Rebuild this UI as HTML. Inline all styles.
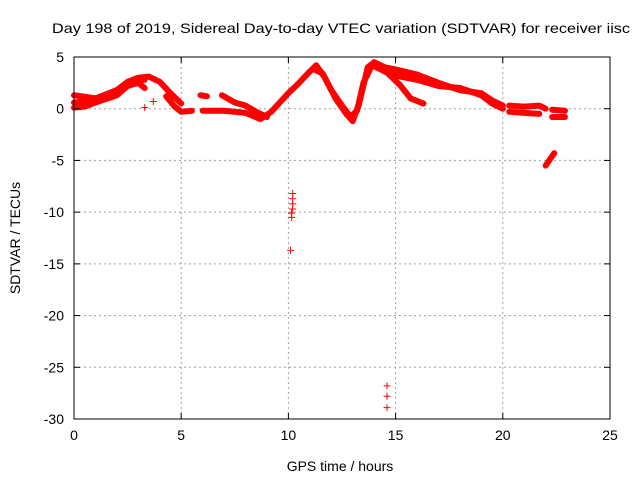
<!DOCTYPE html>
<html><head><meta charset="utf-8"><style>
body{margin:0;background:#fff}
svg{display:block;font-family:"Liberation Sans",sans-serif}
</style></head><body>
<svg id="chart" width="640" height="480" viewBox="0 0 640 480" xmlns="http://www.w3.org/2000/svg">
<text x="52" y="33" font-size="14" textLength="578" lengthAdjust="spacingAndGlyphs" fill="#000">Day 198 of 2019, Sidereal Day-to-day VTEC variation (SDTVAR) for receiver iisc</text>
<text x="340" y="471" font-size="14" text-anchor="middle">GPS time / hours</text>
<text transform="translate(20,238) rotate(-90)" font-size="14" text-anchor="middle">SDTVAR / TECUs</text>
<g id="grid"></g><g id="marks"></g><g id="axes"></g>
</svg>
<script>
const xTicks=[0,5,10,15,20,25];
const yTicks=[5,0,-5,-10,-15,-20,-25,-30];
const trackA=[[0,1.3],[1,1.0],[2,1.8],[2.5,2.6],[3,3.0],[3.5,3.1],[4,2.6],[4.5,1.5],[5,0.5]];
const trackB=[[0,0.1],[0.5,0.2],[1,0.6],[2,1.3],[2.5,2.2],[3,2.5],[3.3,2.0]];
const trackC=[[0,0.6],[1,0.8],[2,1.5],[2.7,2.7],[3.3,2.8]];
const trackD=[[4.3,1.2],[4.7,0.2],[5,-0.3],[5.5,-0.2]];
const trackE=[[5.9,1.3],[6.2,1.2]];
const trackF=[[6.9,1.3],[7.5,0.6],[8,0.3],[8.5,-0.3],[9,-0.8]];
const trackG=[[6,-0.2],[7,-0.2],[8,-0.4],[8.7,-1.0],[9.2,-0.3],[10,1.5],[10.5,2.5],[11,3.6],[11.3,4.2],[11.7,3.0],[12.2,1.0],[12.7,-0.5],[13,-1.2],[13.3,0.5],[13.7,4.0],[14,4.5],[14.5,4.0],[15,3.8],[16,3.3],[17,2.5],[18,1.8],[19,1.5],[19.5,0.8],[20,0.3]];
const trackH=[[11.2,3.8],[11.6,3.4],[12,1.8],[12.5,0.3],[12.9,-0.8],[13.2,-0.2],[13.5,2.5],[13.9,4.2],[14.6,3.5],[15.2,2.3],[15.7,1.0],[16.3,0.5]];
const trackI=[[14.3,4.2],[15,3.2],[16,2.8],[17,2.2],[18,2.0],[19,1.3],[19.5,0.5],[20,0]];
const trackJ=[[20.3,0.3],[21,0.2],[21.7,0.3],[22,0]];
const trackK=[[20.3,-0.3],[21,-0.4],[21.7,-0.5]];
const trackL=[[22.3,-0.1],[22.9,-0.2]];
const trackM=[[22.3,-0.8],[22.9,-0.8]];
const trackN=[[22,-5.5],[22.4,-4.3]];
const outliers=[[3.3,0.1],[3.7,0.7],[10.1,-13.7],[10.2,-8.2],[10.2,-8.7],[10.2,-9.2],[10.2,-9.7],[10.15,-10.1],[10.15,-10.5],[14.6,-26.8],[14.6,-27.8],[14.6,-28.9]];
const X0=74,X1=610,Y0=419,Y1=57;
const xs=v=>X0+(v-0)/(25-0)*(X1-X0);
const ys=v=>Y0-(v+30)/35*(Y0-Y1);
const NS="http://www.w3.org/2000/svg";
function mk(t,a,p){const e=document.createElementNS(NS,t);for(const k in a)e.setAttribute(k,a[k]);p.appendChild(e);return e;}
const grid=document.getElementById('grid'),axes=document.getElementById('axes'),marks=document.getElementById('marks');
xTicks.forEach(t=>{const x=xs(t);
 if(t>0&&t<25){const g=mk('line',{x1:x,x2:x,y1:Y1,y2:Y0,stroke:'#a0a0a0','stroke-dasharray':'2,3'},grid);}
 mk('line',{x1:x,x2:x,y1:Y0,y2:Y0-6,stroke:'#000'},axes);mk('line',{x1:x,x2:x,y1:Y1,y2:Y1+6,stroke:'#000'},axes);
 const l=mk('text',{x:x,y:Y0+21,'font-size':14,'text-anchor':'middle'},axes);l.textContent=t;
 });
yTicks.forEach(t=>{const y=ys(t);
 if(t>-30&&t<5){const g=mk('line',{x1:X0,x2:X1,y1:y,y2:y,stroke:'#a0a0a0','stroke-dasharray':'2,3'},grid);}
 mk('line',{x1:X0,x2:X0+6,y1:y,y2:y,stroke:'#000'},axes);mk('line',{x1:X1,x2:X1-6,y1:y,y2:y,stroke:'#000'},axes);
 const l=mk('text',{x:X0-10,y:y+5,'font-size':14,'text-anchor':'end'},axes);l.textContent=t;
 });
const fr=mk('rect',{x:X0,y:Y1,width:X1-X0,height:Y0-Y1,fill:'none',stroke:'#000'},axes);

[trackA,trackB,trackC,trackD,trackE,trackF,trackG,trackH,trackI,trackJ,trackK,trackL,trackM,trackN].forEach(tr=>{
 const p=mk('polyline',{points:tr.map(d=>xs(d[0])+','+ys(d[1])).join(' '),fill:'none',stroke:'#f00','stroke-width':6,'stroke-linejoin':'round','stroke-linecap':'round'},marks);
 });
outliers.forEach(d=>{const x=xs(d[0]),y=ys(d[1]);
 const p=mk('path',{d:`M${x-3.5},${y}H${x+3.5}M${x},${y-3.5}V${y+3.5}`,stroke:'#f00','stroke-width':1},marks);
 });
</script>
</body></html>
